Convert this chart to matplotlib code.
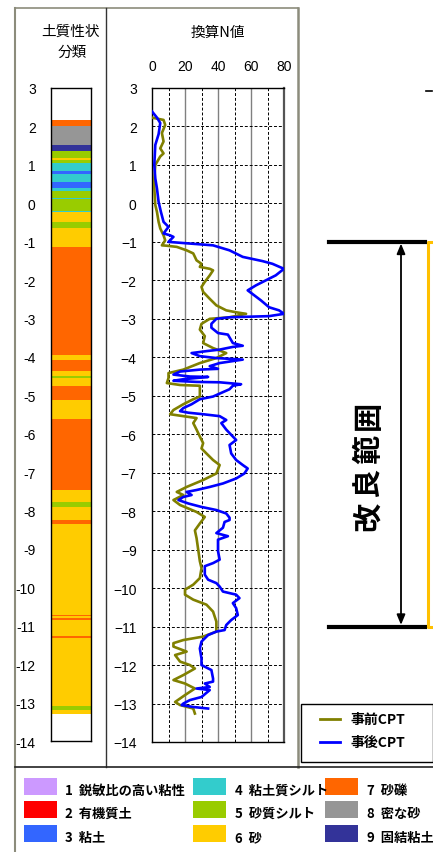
import matplotlib
matplotlib.use("Agg")
import matplotlib.pyplot as plt
from matplotlib.lines import Line2D
from matplotlib.patches import Rectangle, FancyArrowPatch

plt.rcParams['font.family'] = ['Liberation Sans', 'Noto Sans CJK JP', 'DejaVu Sans']
JP = ['Noto Sans CJK JP', 'DejaVu Sans']

# ---------------- data ----------------
soil_names = ["鋭敏比の高い粘性", "有機質土", "粘土", "粘土質シルト", "砂質シルト", "砂", "砂礫", "密な砂", "固結粘土"]
soil_colors = ["#CC99FF", "#FF0000", "#3366FF", "#33CCCC", "#99CC00", "#FFCC00", "#FF6600", "#969696", "#333399"]

layer_bounds = [2.16, 2.0, 1.52, 1.35, 1.18, 1.13, 1.05, 0.83, 0.76, 0.54, 0.40, 0.33, 0.13, 0.10,
                -0.20, -0.23, -0.48, -0.64, -1.13, -3.95, -4.08, -4.36, -4.49, -4.54, -4.75, -5.12,
                -5.62, -7.47, -7.79, -7.90, -8.25, -8.35, -10.71, -10.74, -10.79, -10.85, -11.26,
                -11.31, -13.08, -13.20, -13.29]
layer_types = [7, 8, 9, 5, 6, 5, 4, 3, 4, 3, 4, 5, 4, 5, 4, 6, 5, 6, 7, 6, 7, 6, 5, 6, 7, 6, 7,
               6, 5, 6, 7, 6, 7, 6, 7, 6, 7, 6, 5, 6]

pre_N = [0, 7, 8, 6, 7, 5, 7, 5, 2, 1.4, 1.4, 2, 3, 4, 5, 7, 8, 6, 9, 15, 21, 25, 27, 30, 29, 35, 37,
         35, 32, 30, 31, 35, 39, 45, 51, 57, 47, 35, 30, 29, 32, 31, 37, 45, 39, 29, 19, 10, 10, 9,
         17, 29, 29, 25, 19, 13, 11, 19, 27, 25, 27, 29, 31, 30, 33, 37, 41, 39, 31, 21, 15, 19, 13,
         17, 27, 32, 29, 26, 27, 28, 29, 30, 29, 25, 20, 20, 25, 33, 37, 39, 39, 31, 19, 13, 13, 21,
         14, 17, 23, 26, 19, 13, 20, 26, 20, 14, 17, 25, 26]
pre_depth = [2.23, 2.17, 2.04, 1.83, 1.61, 1.43, 1.30, 1.22, 1.0, 0.65, 0.39, -0.04, -0.22, -0.48,
             -0.65, -0.83, -0.96, -1.09, -1.10, -1.13, -1.22, -1.30, -1.48, -1.57, -1.65, -1.70, -1.74,
             -1.87, -2.04, -2.17, -2.30, -2.48, -2.65, -2.78, -2.83, -2.87, -2.96, -3.0, -3.13, -3.28,
             -3.45, -3.63, -3.76, -3.89, -4.02, -4.15, -4.32, -4.41, -4.54, -4.67, -4.72, -4.74, -5.02,
             -5.09, -5.22, -5.37, -5.48, -5.53, -5.58, -5.71, -5.88, -6.06, -6.23, -6.37, -6.50, -6.67,
             -6.80, -7.02, -7.19, -7.37, -7.50, -7.58, -7.71, -7.84, -8.02, -8.15, -8.32, -8.50, -8.70,
             -9.0, -9.30, -9.48, -9.74, -9.91, -10.04, -10.17, -10.30, -10.43, -10.61, -10.87, -11.13,
             -11.26, -11.35, -11.43, -11.52, -11.65, -11.74, -11.91, -12.0, -12.09, -12.26, -12.39,
             -12.48, -12.61, -12.78, -12.96, -13.04, -13.13, -13.26]

post_N = [0, 3, 5, 4, 2, 1.4, 2, 3, 4, 5.4, 7, 10, 7, 11, 13, 10, 19, 37, 47, 55, 67, 73, 80, 75, 69,
          63, 58, 62, 66, 71, 77, 80, 71, 47, 39, 36, 36, 40, 46, 49, 55, 49, 41, 33, 24, 29, 39, 55,
          41, 35, 40, 29, 17, 13, 23, 34, 19, 13, 27, 41, 54, 49, 47, 37, 29, 24, 19, 17, 22, 31, 41,
          45, 42, 45, 49, 51, 47, 48, 51, 55, 58, 56, 51, 43, 35, 27, 21, 24, 19, 16, 22, 30, 39, 45,
          47, 47, 44, 43, 39, 46, 40, 40, 41, 37, 32, 32, 34, 39, 41, 43, 51, 53, 49, 51, 52, 48, 45,
          44, 39, 34, 30, 29, 30, 30, 36, 37, 37, 32, 35, 27, 35, 30, 23, 19, 18, 25, 34]
post_depth = [2.39, 2.23, 2.09, 1.8, 1.52, 1.0, 0.65, 0.39, 0.04, -0.22, -0.48, -0.61, -0.78, -0.83,
              -0.87, -1.0, -1.03, -1.09, -1.22, -1.39, -1.5, -1.57, -1.70, -1.87, -2.0, -2.13, -2.26,
              -2.39, -2.52, -2.70, -2.78, -2.87, -2.93, -2.96, -3.0, -3.13, -3.23, -3.37, -3.41, -3.63,
              -3.70, -3.73, -3.80, -3.84, -3.89, -3.97, -4.02, -4.06, -4.15, -4.23, -4.30, -4.32, -4.37,
              -4.45, -4.50, -4.51, -4.57, -4.61, -4.64, -4.65, -4.70, -4.74, -4.83, -5.02, -5.09, -5.22,
              -5.32, -5.40, -5.44, -5.48, -5.53, -5.63, -5.71, -5.88, -6.06, -6.15, -6.28, -6.50, -6.67,
              -6.80, -6.89, -7.02, -7.15, -7.28, -7.37, -7.45, -7.50, -7.58, -7.63, -7.71, -7.80, -7.89,
              -7.97, -8.06, -8.17, -8.23, -8.28, -8.43, -8.57, -8.65, -8.74, -9.04, -9.26, -9.35, -9.43,
              -9.65, -9.78, -9.87, -9.96, -10.09, -10.17, -10.26, -10.39, -10.52, -10.70, -10.83, -10.96,
              -11.09, -11.13, -11.22, -11.39, -11.57, -11.83, -12.0, -12.13, -12.35, -12.43, -12.48,
              -12.57, -12.61, -12.65, -12.83, -12.91, -13.0, -13.04, -13.09, -13.13]

depth_ticks = list(range(3, -15, -1))
n_ticks = [0, 20, 40, 60, 80]
improve_top, improve_bottom = -1, -11
improve_label = "改良範囲"

# ---------------- figure ----------------
W, H = 433, 853
fig = plt.figure(figsize=(W / 100, H / 100), dpi=100)


def fx(x):
    return x / W


def fy(y):
    return 1 - y / H


def fline(x0, y0, x1, y1, **kw):
    fig.add_artist(Line2D([fx(x0), fx(x1)], [fy(y0), fy(y1)], transform=fig.transFigure, **kw))


# soil column axes
ax1 = fig.add_axes([fx(51), fy(742), fx(91) - fx(51), fy(89) - fy(742)])
heights = [layer_bounds[i] - layer_bounds[i + 1] for i in range(len(layer_types))]
bottoms = layer_bounds[1:]
ax1.bar([0.5] * len(layer_types), heights, bottom=bottoms, width=1.0,
        color=[soil_colors[t - 1] for t in layer_types], linewidth=0)
ax1.set_xlim(0, 1)
ax1.set_ylim(-14, 3)
ax1.set_xticks([])
ax1.set_yticks(depth_ticks)
ax1.set_yticklabels([str(t) for t in depth_ticks])
ax1.tick_params(axis='y', length=0, pad=11, labelsize=10)
for s in ax1.spines.values():
    s.set_linewidth(1.0)

# N value axes
ax2 = fig.add_axes([fx(152), fy(743), fx(284) - fx(152), fy(89) - fy(743)])
ax2.plot(pre_N, pre_depth, color='#808000', lw=1.9, zorder=3)
ax2.plot(post_N, post_depth, color='#0000FF', lw=1.9, zorder=4)
ax2.set_xlim(0, 80)
ax2.set_ylim(-14, 3)
ax2.set_xticks(n_ticks)
ax2.xaxis.tick_top()
ax2.set_yticks(depth_ticks)
ax2.tick_params(axis='both', length=0, labelsize=10)
ax2.tick_params(axis='y', pad=11)
ax2.tick_params(axis='x', pad=11)
for v in [10, 30, 50, 70]:
    ax2.axvline(v, color='black', lw=0.7, ls=(0, (3, 2)), zorder=1)
for v in [20, 40, 60]:
    ax2.axvline(v, color='#808080', lw=1.0, zorder=1)
for d in range(-13, 3):
    ax2.axhline(d, color='black', lw=0.7, ls=(0, (3, 2)), zorder=1)
for k, s in ax2.spines.items():
    s.set_linewidth(1.0)
ax2.spines['right'].set_color('#555555')
ax2.spines['right'].set_linewidth(1.6)

# headers
fig.text(fx(71), fy(32), "土質性状", family=JP, fontsize=10.5, ha='center', va='center')
fig.text(fx(72), fy(53), "分類", family=JP, fontsize=10.5, ha='center', va='center')
fig.text(fx(218), fy(33), "換算N値", family=JP, fontsize=10.5, ha='center', va='center')

# frames
frame_c = '#8c8c7c'
fline(15, 9, 298, 9, color=frame_c, lw=1.2)
fline(15, 9, 15, 853, color=frame_c, lw=1.5)
fline(106, 9, 106, 768, color='#333333', lw=1.0)
fline(298, 9, 298, 768, color=frame_c, lw=1.8)
fline(15, 768, 433, 768, color='#222222', lw=1.2)

# CPT legend box
fig.add_artist(Rectangle((fx(301), fy(763)), fx(433) - fx(301), fy(705) - fy(763),
                         transform=fig.transFigure, fill=False, ec='black', lw=1.0))
fline(320, 720, 340, 720, color='#808000', lw=2)
fline(320, 743, 340, 743, color='#0000FF', lw=2)
fig.text(fx(350), fy(720), "事前CPT", family=JP, fontsize=10, weight='bold', va='center')
fig.text(fx(350), fy(743), "事後CPT", family=JP, fontsize=10, weight='bold', va='center')

# improvement range annotation (y positions from depth scale of ax2)
inv = fig.transFigure.inverted()
y_top = inv.transform(ax2.transData.transform((0, improve_top)))[1]
y_bot = inv.transform(ax2.transData.transform((0, improve_bottom)))[1]
for yy in [y_top, y_bot]:
    fig.add_artist(Line2D([fx(329), fx(425)], [yy, yy], transform=fig.transFigure,
                          color='black', lw=3))
fig.add_artist(FancyArrowPatch((fx(401), y_top - 0.002), (fx(401), y_bot + 0.002),
                               transform=fig.transFigure, arrowstyle='<|-|>,head_length=6,head_width=2.5',
                               color='black', lw=1.3, shrinkA=0, shrinkB=0))
fig.add_artist(Line2D([fx(433), fx(428), fx(428), fx(433)], [y_top, y_top, y_bot, y_bot],
                      transform=fig.transFigure, color='#FFC000', lw=2.2))
for i, ch in enumerate(improve_label):
    fig.text(fx(368), fy(516 - i * 33.5), ch, family=JP, fontsize=21, weight='bold',
             rotation=90, ha='center', va='center')
fline(426, 92, 432, 92, color='black', lw=1.2)

# soil legend
col_sw = [24, 193, 325]
col_tx = [65, 235, 367]
row_y = [788, 811, 835]
for i, (name, c) in enumerate(zip(soil_names, soil_colors)):
    col, row = i // 3, i % 3
    fig.add_artist(Rectangle((fx(col_sw[col]), fy(row_y[row] + 8)), fx(33), fy(0) - fy(17),
                             transform=fig.transFigure, fc=c, ec='none'))
    fig.text(fx(col_tx[col]), fy(row_y[row] + 3), f"{i + 1}  {name}", family=JP, fontsize=9.5,
             weight='bold', va='center')

fig.savefig("out.png", dpi=100)
